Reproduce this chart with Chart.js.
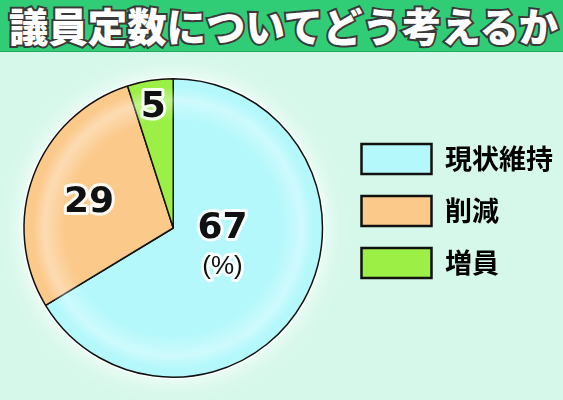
<!DOCTYPE html>
<html>
<head>
<meta charset="utf-8">
<script src="https://cdn.jsdelivr.net/npm/chart.js@4"></script>
<style>
  html, body { margin: 0; padding: 0; }
  body { width: 563px; height: 400px; background: #d6f8ea; overflow: hidden; }
  #title {
    height: 51px; background: #31cd76; border-bottom: 1px solid #27a862;
    font-family: "Noto Sans CJK JP", sans-serif; font-weight: 900; font-size: 40px;
    line-height: 51px; color: #fff; white-space: nowrap;
  }
  #title span {
    display: inline-block; transform-origin: 0 50%; transform: scaleX(0.985);
    margin-left: 9px; -webkit-text-stroke: 4px #3a3a3a; paint-order: stroke fill;
  }
  #wrap { position: relative; width: 563px; height: 348px; }
</style>
</head>
<body>
<div id="title"><span>議員定数についてどう考えるか</span></div>
<div id="wrap"><canvas id="pie" width="563" height="348"></canvas></div>
<script>
// 議員定数についてどう考えるか (%)
const categories = ['現状維持', '削減', '増員'];
const shares = [67, 29, 5];
const sliceColors = ['#b4f8fb', '#fbc98a', '#9bef45'];

// label anchors: [angle deg from 3 o'clock, fraction of radius]
const labelAnchors = [[1, 0.33], [197, 0.59], [260.6, 0.82]];

const glow = {
  id: 'glow',
  afterLayout(chart) {
    // lift the legend a little, as in the print layout
    chart.legend.top -= 17;
    chart.legend.bottom -= 17;
  },
  beforeDatasetsDraw(chart) {
    const a = chart.getDatasetMeta(0).data[0];
    const ctx = chart.ctx;
    ctx.save();
    ctx.beginPath();
    ctx.arc(a.x, a.y, a.outerRadius + 2, 0, Math.PI * 2);
    ctx.shadowColor = 'rgba(255,255,255,1)';
    ctx.shadowBlur = 24;
    ctx.fillStyle = '#ffffff';
    ctx.fill();
    ctx.restore();
  },
  afterDatasetsDraw(chart) {
    const meta = chart.getDatasetMeta(0);
    const a = meta.data[0];
    const ctx = chart.ctx;
    // soft inner highlight near rim
    ctx.save();
    ctx.beginPath();
    ctx.arc(a.x, a.y, a.outerRadius - 1, 0, Math.PI * 2);
    ctx.clip();
    const g = ctx.createRadialGradient(a.x, a.y, a.outerRadius * 0.72, a.x, a.y, a.outerRadius);
    g.addColorStop(0, 'rgba(255,255,255,0)');
    g.addColorStop(0.5, 'rgba(255,255,255,0.35)');
    g.addColorStop(0.8, 'rgba(255,255,255,0)');
    ctx.fillStyle = g;
    ctx.fillRect(a.x - a.outerRadius, a.y - a.outerRadius, a.outerRadius * 2, a.outerRadius * 2);
    ctx.restore();

    ctx.save();
    ctx.textAlign = 'center';
    ctx.textBaseline = 'middle';
    ctx.lineJoin = 'round';
    meta.data.forEach((arc, i) => {
      const [deg, f] = labelAnchors[i];
      const t = deg * Math.PI / 180;
      const x = arc.x + Math.cos(t) * arc.outerRadius * f;
      const y = arc.y + Math.sin(t) * arc.outerRadius * f;
      ctx.font = 'bold 36px "DejaVu Sans", sans-serif';
      ctx.strokeStyle = 'rgba(255,255,255,0.9)';
      ctx.lineWidth = 6;
      ctx.strokeText(String(shares[i]), x, y);
      ctx.fillStyle = '#111';
      ctx.fillText(String(shares[i]), x, y);
      if (i === 0) {
        ctx.font = '26px "Liberation Sans", Arial, sans-serif';
        ctx.strokeText('(%)', x, y + 38);
        ctx.fillText('(%)', x, y + 38);
      }
    });
    ctx.restore();
  }
};

new Chart(document.getElementById('pie'), {
  type: 'pie',
  data: {
    labels: categories,
    datasets: [{
      data: shares,
      backgroundColor: sliceColors,
      borderColor: '#111',
      borderWidth: 1.5
    }]
  },
  options: {
    responsive: false,
    animation: false,
    layout: { padding: { top: 26, bottom: 22, left: 7, right: 0 } },
    plugins: {
      tooltip: { enabled: false },
      legend: {
        position: 'right',
        labels: {
          boxWidth: 70,
          boxHeight: 30,
          padding: 22,
          color: '#151515',
          font: { family: '"Noto Sans CJK JP", sans-serif', size: 27, weight: 'bold' },
          generateLabels(chart) {
            return categories.map((c, i) => ({
              text: c, fillStyle: sliceColors[i], strokeStyle: '#111', lineWidth: 2.5, index: i, hidden: false
            }));
          }
        }
      }
    }
  },
  plugins: [glow]
});
</script>
</body>
</html>
